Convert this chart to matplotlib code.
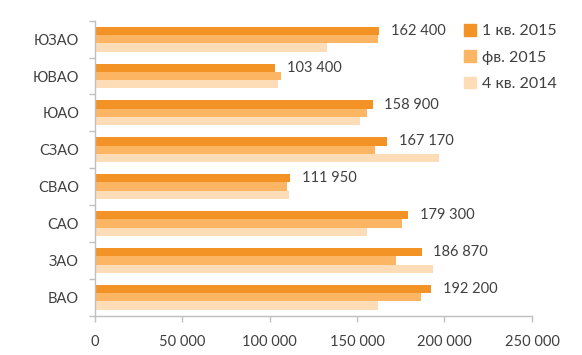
import matplotlib
matplotlib.use("Agg")
import matplotlib.pyplot as plt
import numpy as np
from matplotlib.patches import Patch

plt.rcParams['font.family'] = ['Lato', 'DejaVu Sans']

categories = ['ВАО', 'ЗАО', 'САО', 'СВАО', 'СЗАО', 'ЮАО', 'ЮВАО', 'ЮЗАО']
q1_2015 = [192200, 186870, 179300, 111950, 167170, 158900, 103400, 162400]
feb_2015 = [186800, 172100, 175900, 110200, 160300, 155500, 106400, 161800]
q4_2014 = [161800, 193300, 155900, 111000, 197000, 151700, 104700, 133000]
series_names = ['1 кв. 2015', 'фв. 2015', '4 кв. 2014']
label_texts = ['192 200', '186 870', '179 300', '111 950', '167 170', '158 900', '103 400', '162 400']
xticks = [0, 50000, 100000, 150000, 200000, 250000]
xtick_labels = ['0', '50 000', '100 000', '150 000', '200 000', '250 000']

colors = ['#F39325', '#FBB563', '#FCDDB8']

fig = plt.figure(figsize=(5.82, 3.55), dpi=100)
ax = fig.add_axes([94.5/582, 1-315.7/355, (532-94.5)/582, (315.7-20.7)/355])

y = np.arange(len(categories))
h = 0.225
ax.barh(y + h, q1_2015, height=h, color=colors[0], label=series_names[0])
ax.barh(y, feb_2015, height=h, color=colors[1], label=series_names[1])
ax.barh(y - h, q4_2014, height=h, color=colors[2], label=series_names[2])

for yi, v, t in zip(y, q1_2015, label_texts):
    ax.annotate(t, (v, yi + h), xytext=(8.5, 0), textcoords='offset points',
                va='center', ha='left', fontsize=10.5, color='#404040')

ax.set_xlim(0, 250000)
ax.set_ylim(-0.5, len(categories) - 0.5)
ax.set_xticks(xticks)
ax.set_xticklabels(xtick_labels)
ax.set_yticks(y)
ax.set_yticklabels(categories)
ax.set_yticks(np.arange(-0.5, len(categories)), minor=True)
ax.tick_params(axis='y', which='major', length=0, pad=11, labelsize=10.5, labelcolor='#404040')
ax.tick_params(axis='y', which='minor', length=4, color='#BFBFBF', width=1)
ax.tick_params(axis='x', which='major', length=4, color='#BFBFBF', width=1, pad=10,
               labelsize=10.5, labelcolor='#404040')

for s in ['top', 'right']:
    ax.spines[s].set_visible(False)
for s in ['left', 'bottom']:
    ax.spines[s].set_color('#BFBFBF')
    ax.spines[s].set_linewidth(1)

handles = [Patch(color=c) for c in colors]
leg = fig.legend(handles, series_names, loc='upper left', bbox_to_anchor=(464/582, 1-24/355),
                 frameon=False, fontsize=11.5, handlelength=0.75, handleheight=0.75,
                 handletextpad=0.35, labelspacing=0.75, borderaxespad=0, borderpad=0)
for t in leg.get_texts():
    t.set_color('#404040')

fig.savefig('out.png', dpi=100)
